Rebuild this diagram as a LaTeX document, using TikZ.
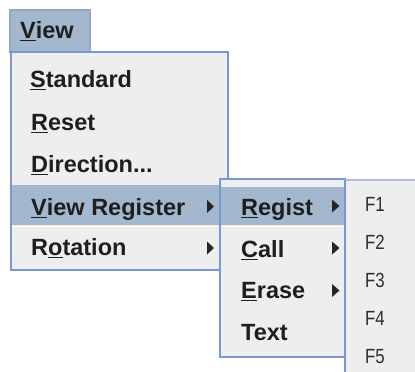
\documentclass[tikz,border=0pt]{standalone}
\usepackage{fontspec}
\setmainfont{Liberation Sans}
\newfontfamily\fkeyfont[FakeStretch=0.82]{Liberation Sans}
\definecolor{mbg}{RGB}{238,238,238}
\definecolor{mborder}{RGB}{122,150,212}
\definecolor{hdrborder}{RGB}{150,168,192}
\definecolor{topborder}{RGB}{175,190,218}
\definecolor{mhi}{RGB}{163,184,206}
\definecolor{mtext}{RGB}{30,30,30}
\definecolor{ftext}{RGB}{45,45,45}
\newcommand\mnem[1]{\setbox0\hbox{#1}\rlap{\rule[-3pt]{\wd0}{1.4pt}}\box0}
\begin{document}
\begin{tikzpicture}[x=1pt,y=-1pt,
  item/.style={anchor=base west,inner sep=0pt,text=mtext,font=\fontsize{23.5}{28}\selectfont\bfseries},
  fitem/.style={anchor=base west,inner sep=0pt,text=ftext,font=\fkeyfont\fontsize{20.5}{24}\selectfont},
  menubox/.style={fill=mbg,draw=mborder,line width=1.5pt},
  hirow/.style={fill=mhi},
  subarrow/.style={fill=black!85}]
\useasboundingbox (0,0) rectangle (415,372);
\fill[white] (0,0) rectangle (415,372);
\clip (0,0) rectangle (415,372);
% header
\filldraw[fill=mhi,draw=hdrborder,line width=1.2pt] (10,10) rectangle (90,52);
\node[item] (view) at (20,38) {\mnem{V}iew};
% main menu
\filldraw[menubox] (11,52) rectangle (228,270);
\fill[hirow] (12,185) rectangle (227,225);
\draw[white,line width=1pt] (12,226) -- (227,226);
\node[item] (std) at (30,87) {\mnem{S}tandard};
\node[item] (rst) at (31,130) {\mnem{R}eset};
\node[item] (dir) at (31,172) {\mnem{D}irection...};
\node[item] (vrg) at (31,215) {\mnem{V}iew Register};
\node[item] (rot) at (31,255) {R\mnem{o}tation};
\fill[subarrow] (207,200) -- (214,206.5) -- (207,213) -- cycle;
\fill[subarrow] (207,241.5) -- (214,248) -- (207,254.5) -- cycle;
% submenu 2
\filldraw[menubox] (220,179) rectangle (345,357);
\fill[hirow] (221,186.5) rectangle (344,225);
\draw[white,line width=1pt] (221,226) -- (344,226);
\node[item] (reg) at (241,215) {\mnem{R}egist};
\node[item] (cal) at (241,257) {\mnem{C}all};
\node[item] (era) at (241,298) {\mnem{E}rase};
\node[item] (txt) at (241,340) {Text};
\fill[subarrow] (332,199.5) -- (339.5,206) -- (332,212.5) -- cycle;
\fill[subarrow] (332,241.5) -- (339.5,248) -- (332,254.5) -- cycle;
\fill[subarrow] (332,284) -- (339.5,290.5) -- (332,297) -- cycle;
% submenu 3
\fill[mbg] (345,180) rectangle (430,390);
\draw[topborder,line width=1.2pt] (345,180) -- (430,180);
\draw[mborder,line width=1.5pt] (345,180) -- (345,390);
\node[fitem] (f1) at (365,211) {F1};
\node[fitem] (f2) at (365,249) {F2};
\node[fitem] (f3) at (365,287) {F3};
\node[fitem] (f4) at (365,325) {F4};
\node[fitem] (f5) at (365,363) {F5};
\end{tikzpicture}
\end{document}
